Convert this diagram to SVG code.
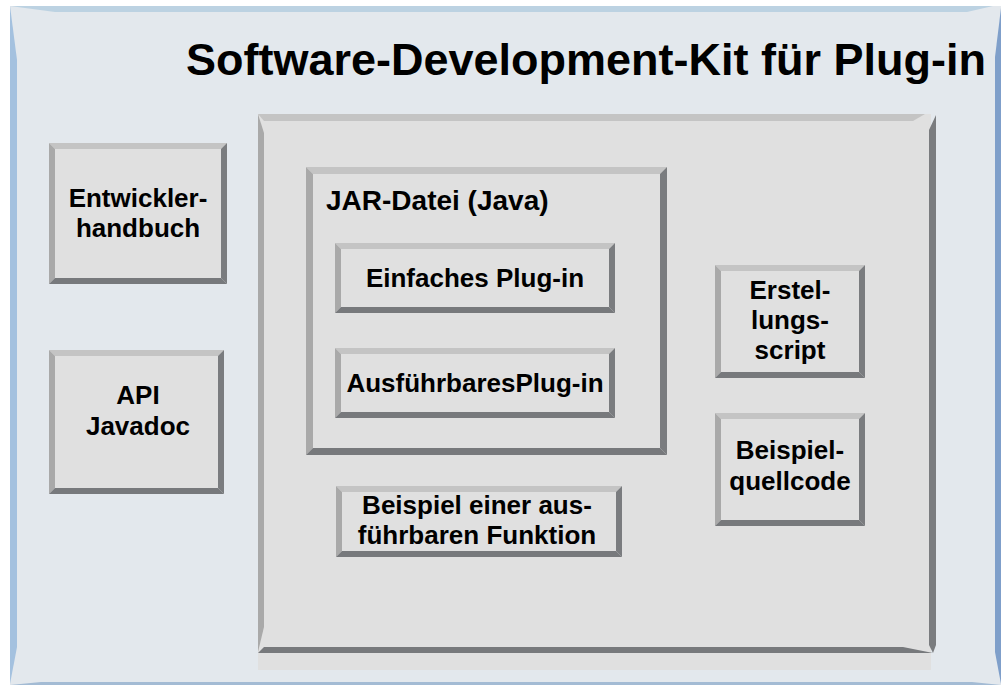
<svg xmlns="http://www.w3.org/2000/svg" width="1002" height="685" viewBox="0 0 1002 685">
<style>
.t{font-family:"Liberation Sans",Arial,sans-serif;font-weight:bold;fill:#000;}
.c{text-anchor:middle;font-size:26px;}
.f{fill:#e0e0e0;}
.bt{fill:#c4c4c4;}
.bl{fill:#a9a9a9;}
.br{fill:#7a7c7f;}
.bb{fill:#77797c;}
</style>
<rect width="1002" height="685" fill="#ffffff"/>
<g id="sdk-panel">
<rect x="10" y="6" width="991" height="679" fill="#e3e8ed"/>
<polygon points="10,6 993,6 967,12 55,12" fill="#bcd2e2"/>
<polygon points="10,6 17,60 17,647 10,684" fill="#a4c1df"/>
<polygon points="1001,8 1001,684 995,652 995,57" fill="#7f9fca"/>
<polygon points="10,685 41,682 972,682 1001,685" fill="#a3bbd4"/>
<text class="t" x="586" y="75" font-size="44" text-anchor="middle" textLength="800" lengthAdjust="spacingAndGlyphs">Software-Development-Kit für Plug-in</text>
</g>
<g id="inner-panel">
<rect class="f" x="258" y="114" width="673" height="556"/>
<polygon class="bt" points="258,114 925,114 913,121 264,121"/>
<polygon class="bl" points="258,114 264,133 264,627 258,652"/>
<polygon class="br" points="936,115 936,645 933,653 929,645 929,130"/>
<polygon class="bb" points="258,653 264,647 903,647 933,653"/>
</g>
<g id="entwicklerhandbuch">
<rect class="f" x="49" y="143" width="178" height="141"/>
<polygon class="bt" points="49,143 227,143 221,149 55,149"/>
<polygon class="bl" points="49,143 55,149 55,278 49,284"/>
<polygon class="br" points="227,143 227,284 221,278 221,149"/>
<polygon class="bb" points="49,284 227,284 221,278 55,278"/>
<text class="t c" x="138" y="207">Entwickler-</text>
<text class="t c" x="138" y="237">handbuch</text>
</g>
<g id="api-javadoc">
<rect class="f" x="49" y="350" width="175" height="144"/>
<polygon class="bt" points="49,350 224,350 218,356 55,356"/>
<polygon class="bl" points="49,350 55,356 55,488 49,494"/>
<polygon class="br" points="224,350 224,494 218,488 218,356"/>
<polygon class="bb" points="49,494 224,494 218,488 55,488"/>
<text class="t c" x="138" y="404">API</text>
<text class="t c" x="138" y="435">Javadoc</text>
</g>
<g id="jar-datei">
<rect class="f" x="306" y="167" width="361" height="288"/>
<polygon class="bt" points="306,167 667,167 660,174 313,174"/>
<polygon class="bl" points="306,167 313,174 313,448 306,455"/>
<polygon class="br" points="667,167 667,455 660,448 660,174"/>
<polygon class="bb" points="306,455 667,455 660,448 313,448"/>
<text class="t" x="326" y="210" font-size="28">JAR-Datei (Java)</text>
</g>
<g id="einfaches-plugin">
<rect class="f" x="335" y="243" width="280" height="70"/>
<polygon class="bt" points="335,243 615,243 609,249 341,249"/>
<polygon class="bl" points="335,243 341,249 341,307 335,313"/>
<polygon class="br" points="615,243 615,313 609,307 609,249"/>
<polygon class="bb" points="335,313 615,313 609,307 341,307"/>
<text class="t c" x="475" y="287">Einfaches Plug-in</text>
</g>
<g id="ausfuehrbares-plugin">
<rect class="f" x="335" y="348" width="280" height="70"/>
<polygon class="bt" points="335,348 615,348 609,354 341,354"/>
<polygon class="bl" points="335,348 341,354 341,412 335,418"/>
<polygon class="br" points="615,348 615,418 609,412 609,354"/>
<polygon class="bb" points="335,418 615,418 609,412 341,412"/>
<text class="t c" x="475" y="392">AusführbaresPlug-in</text>
</g>
<g id="beispiel-funktion">
<rect class="f" x="336" y="486" width="286" height="71"/>
<polygon class="bt" points="336,486 622,486 616,492 342,492"/>
<polygon class="bl" points="336,486 342,492 342,551 336,557"/>
<polygon class="br" points="622,486 622,557 616,551 616,492"/>
<polygon class="bb" points="336,557 622,557 616,551 342,551"/>
<text class="t c" x="477" y="514">Beispiel einer aus-</text>
<text class="t c" x="477" y="544">führbaren Funktion</text>
</g>
<g id="erstellungsscript">
<rect class="f" x="715" y="265" width="150" height="113"/>
<polygon class="bt" points="715,265 865,265 859,271 721,271"/>
<polygon class="bl" points="715,265 721,271 721,372 715,378"/>
<polygon class="br" points="865,265 865,378 859,372 859,271"/>
<polygon class="bb" points="715,378 865,378 859,372 721,372"/>
<text class="t c" x="790" y="299">Erstel-</text>
<text class="t c" x="790" y="329">lungs-</text>
<text class="t c" x="790" y="359">script</text>
</g>
<g id="beispielquellcode">
<rect class="f" x="715" y="413" width="150" height="113"/>
<polygon class="bt" points="715,413 865,413 859,419 721,419"/>
<polygon class="bl" points="715,413 721,419 721,520 715,526"/>
<polygon class="br" points="865,413 865,526 859,520 859,419"/>
<polygon class="bb" points="715,526 865,526 859,520 721,520"/>
<text class="t c" x="790" y="459">Beispiel-</text>
<text class="t c" x="790" y="490">quellcode</text>
</g>
<g id="connectors"></g>
</svg>
